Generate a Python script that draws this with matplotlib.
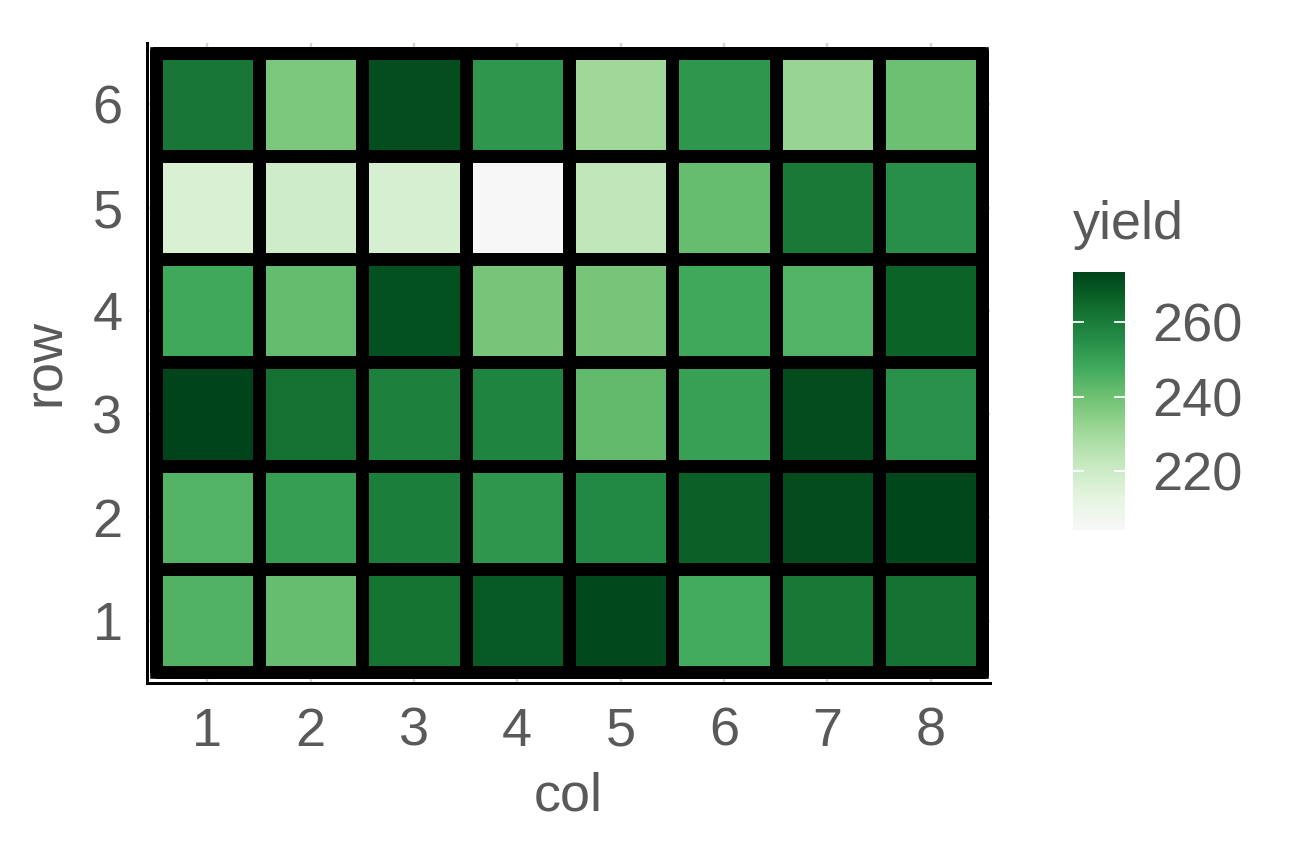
import numpy as np
import matplotlib
matplotlib.use("Agg")
import matplotlib.pyplot as plt
from matplotlib.colors import ListedColormap, to_rgb
from matplotlib.patches import Rectangle

plt.rcParams['font.family'] = ['Liberation Sans', 'DejaVu Sans']

cols = [1, 2, 3, 4, 5, 6, 7, 8]
rows = [1, 2, 3, 4, 5, 6]
# yield values, rows 1..6 (bottom to top), cols 1..8
yield_row1 = [245.0, 241.2, 261.9, 268.0, 272.1, 247.2, 260.7, 262.8]
yield_row2 = [244.7, 250.7, 259.6, 253.1, 256.4, 266.8, 271.3, 272.5]
yield_row3 = [273.4, 262.7, 259.0, 257.8, 242.3, 250.4, 271.5, 254.5]
yield_row4 = [248.0, 241.6, 270.6, 238.5, 238.5, 248.0, 244.7, 266.2]
yield_row5 = [216.5, 219.3, 217.2, 204.2, 223.1, 241.2, 260.4, 255.0]
yield_row6 = [261.0, 237.5, 271.0, 253.0, 230.5, 253.0, 231.8, 240.0]
cbar_ticks = [220, 240, 260]
palette = ["#f7f7f7", "#e5f5e0", "#c7e9c0", "#a1d99b", "#74c476",
           "#41ab5d", "#238b45", "#0f6a2b", "#00441b"]

Z = np.array([yield_row1, yield_row2, yield_row3, yield_row4, yield_row5, yield_row6])


# --- Lab-space interpolation (like ggplot gradient_n_pal) ---
def srgb_to_lin(c):
    c = np.asarray(c)
    return np.where(c <= 0.04045, c / 12.92, ((c + 0.055) / 1.055) ** 2.4)


def lin_to_srgb(c):
    c = np.clip(c, 0, 1)
    return np.where(c <= 0.0031308, 12.92 * c, 1.055 * c ** (1 / 2.4) - 0.055)


M = np.array([[0.4124, 0.3576, 0.1805], [0.2126, 0.7152, 0.0722], [0.0193, 0.1192, 0.9505]])
Minv = np.linalg.inv(M)
wp = np.array([0.95047, 1.0, 1.08883])


def f(t):
    d = 6 / 29
    return np.where(t > d ** 3, np.cbrt(t), t / (3 * d * d) + 4 / 29)


def finv(t):
    d = 6 / 29
    return np.where(t > d, t ** 3, 3 * d * d * (t - 4 / 29))


def rgb_to_lab(rgb):
    xyz = M @ srgb_to_lin(rgb) / wp
    fx, fy, fz = f(xyz)
    return np.array([116 * fy - 16, 500 * (fx - fy), 200 * (fy - fz)])


def lab_to_rgb(lab):
    L, a, b = lab
    fy = (L + 16) / 116
    fx = fy + a / 500
    fz = fy - b / 200
    xyz = np.array([finv(fx), finv(fy), finv(fz)]) * wp
    return lin_to_srgb(Minv @ xyz)


labs = np.array([rgb_to_lab(to_rgb(c)) for c in palette])
pos = np.linspace(0, 1, len(palette))
t = np.linspace(0, 1, 256)
lab_i = np.array([np.interp(t, pos, labs[:, k]) for k in range(3)])
rgb_i = np.array([lab_to_rgb(lab_i[:, i]) for i in range(256)])
cmap = ListedColormap(np.clip(rgb_i, 0, 1))

txt = "#595959"
fs = 18
fig = plt.figure(figsize=(6, 4), dpi=216)
ax = fig.add_axes([146.5/1296, 1-682.5/864, (990-146.5)/1296, (682.5-43)/864])

xe = np.arange(len(cols)+1) + 0.5
ye = np.arange(len(rows)+1) + 0.5
for c in cols:
    ax.axvline(c, color="#d4d4d4", lw=0.8, zorder=0)
for r in rows:
    ax.axhline(r, color="#d4d4d4", lw=0.8, zorder=0)
mesh = ax.pcolormesh(xe, ye, Z, cmap=cmap, vmin=Z.min(), vmax=Z.max(),
                     edgecolors="black", linewidth=4.2, zorder=2)
ax.add_patch(Rectangle((0.5, 0.5), len(cols), len(rows), fill=False,
                       edgecolor="black", lw=4.2, joinstyle='miter', zorder=3))
ax.set_xlim(0.5-0.088, 8.5+0.074)
ax.set_ylim(0.5-0.10, 6.5+0.094)
ax.set_xticks(cols)
ax.set_yticks(rows)
ax.set_xticklabels([str(c) for c in cols])
ax.set_yticklabels([str(r) for r in rows])
ax.tick_params(length=0, labelsize=fs, labelcolor=txt)
ax.tick_params(axis='x', pad=8)
ax.tick_params(axis='y', pad=8)
for s in ['top', 'right']:
    ax.spines[s].set_visible(False)
for s in ['left', 'bottom']:
    ax.spines[s].set_color('black')
    ax.spines[s].set_linewidth(1.0)
ax.set_xlabel("col", fontsize=fs, color=txt, labelpad=5)
ax.set_ylabel("row", fontsize=fs, color=txt, labelpad=7)

cax = fig.add_axes([1073/1296, 1-530/864, 52/1296, 258/864])
cb = fig.colorbar(mesh, cax=cax)
cb.outline.set_visible(False)
cb.set_ticks(cbar_ticks)
cax.tick_params(length=0, labelsize=fs, labelcolor=txt, pad=9)
for v in cbar_ticks:
    cax.axhline(v, xmin=0, xmax=0.2, color='white', lw=0.6)
    cax.axhline(v, xmin=0.8, xmax=1, color='white', lw=0.6)
fig.text(1073/1296, 1-225/864, "yield", fontsize=fs, color=txt, ha='left', va='center')

fig.savefig("out.png", dpi=216)
